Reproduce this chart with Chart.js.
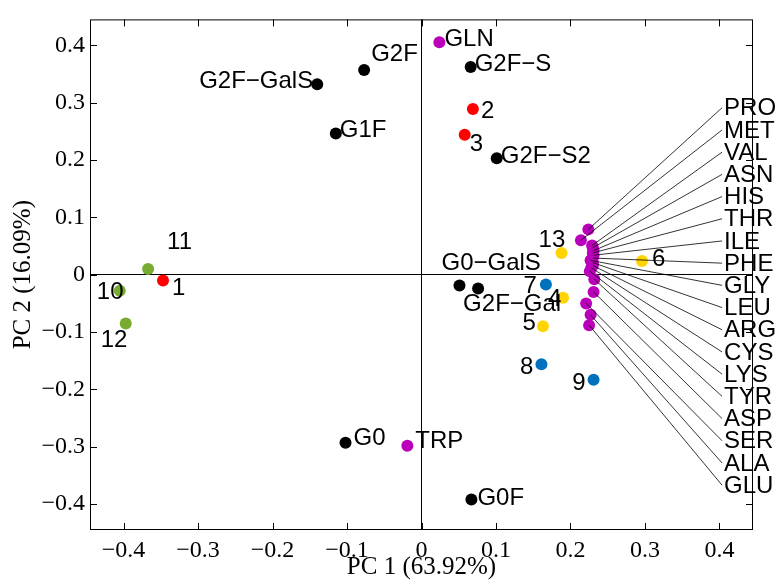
<!DOCTYPE html>
<html><head><meta charset="utf-8">
<script src="https://cdn.jsdelivr.net/npm/chart.js@4/dist/chart.umd.min.js"></script>
<style>html,body{margin:0;padding:0;background:#fff}#wrap{width:779px;height:582px}</style>
</head><body><div id="wrap"><canvas id="c" width="779" height="582"></canvas></div>
<script>
// ---------------- DATA ----------------
const glycanNames = ['G2F','G2F\u2212GalS','G2F\u2212S','G1F','G2F\u2212S2','G0\u2212GalS','G2F\u2212Gal','G0','G0F'];
const glycanPC1   = [-0.077,-0.140,0.066,-0.115,0.101,0.051,0.076,-0.102,0.067];
const glycanPC2   = [0.357,0.332,0.362,0.246,0.203,-0.019,-0.024,-0.293,-0.392];

const redNames = ['1','2','3'];
const redPC1   = [-0.347,0.069,0.058];
const redPC2   = [-0.010,0.289,0.244];

const greenNames = ['10','11','12'];
const greenPC1   = [-0.405,-0.367,-0.397];
const greenPC2   = [-0.028,0.010,-0.085];

const blueNames = ['7','8','9'];
const bluePC1   = [0.167,0.161,0.231];
const bluePC2   = [-0.017,-0.156,-0.183];

const yellowNames = ['4','5','6','13'];
const yellowPC1   = [0.190,0.163,0.296,0.188];
const yellowPC2   = [-0.040,-0.090,0.024,0.038];

const aminoNames = ['GLN','TRP'];
const aminoPC1   = [0.024,-0.019];
const aminoPC2   = [0.405,-0.298];

const clusterNames = ['PRO','MET','VAL','ASN','HIS','THR','ILE','PHE','GLY','LEU','ARG','CYS','LYS','TYR','ASP','SER','ALA','GLU'];
const clusterPC1   = [0.224,0.214,0.229,0.230,0.231,0.230,0.231,0.230,0.227,0.230,0.230,0.228,0.226,0.232,0.231,0.221,0.227,0.225];
const clusterPC2   = [0.079,0.060,0.051,0.047,0.042,0.038,0.034,0.029,0.025,0.021,0.016,0.012,0.006,-0.008,-0.030,-0.050,-0.070,-0.088];

const xTicks = [-0.4,-0.3,-0.2,-0.1,0,0.1,0.2,0.3,0.4];
const xTickLabels = ['\u22120.4','\u22120.3','\u22120.2','\u22120.1','0','0.1','0.2','0.3','0.4'];
const yTicks = [-0.4,-0.3,-0.2,-0.1,0,0.1,0.2,0.3,0.4];
const yTickLabels = ['\u22120.4','\u22120.3','\u22120.2','\u22120.1','0','0.1','0.2','0.3','0.4'];
const xTitle = 'PC 1 (63.92%)';
const yTitle = 'PC 2 (16.09%)';

// ---------------- LAYOUT (label offsets in px: dx, dy, align) ----------------
const glycanOffsets = [[7,-16,'left'],[-4,-3,'right'],[4,-3,'left'],[4,-3,'left'],[4,-2,'left'],[-18,-22,'left'],[-15,16,'left'],[8,-4,'left'],[6,-1,'left']];
const redOffsets = [[9,8,'left'],[8,2,'left'],[5,10,'left']];
const greenOffsets = [[-23,2,'left'],[19,-27,'left'],[-25,17,'left']];
const blueOffsets = [[-9,2,'right'],[-8,3,'right'],[-8,4,'right']];
const yellowOffsets = [[-15,2,'left'],[-7,-3,'right'],[10,-2,'left'],[-23,-13,'left']];
const aminoOffsets = [[5,-3,'left'],[8,-4,'left']];
const leaderX = 0.4035, leaderTop = 0.291, leaderStep = 0.0387;

const pts = (a,b) => a.map((v,i)=>({x:v,y:b[i]}));
const mk = (label, xs, ys, color, names, offs) => ({
  label, data: pts(xs,ys), backgroundColor: color, borderColor: color, borderWidth: 0,
  pointRadius: 6, pointHoverRadius: 6, showLine: false, names, offs
});

const datasets = [
  mk('glycans', glycanPC1, glycanPC2, '#000000', glycanNames, glycanOffsets),
  mk('red', redPC1, redPC2, '#ff0000', redNames, redOffsets),
  mk('green', greenPC1, greenPC2, '#77ac30', greenNames, greenOffsets),
  mk('blue', bluePC1, bluePC2, '#0072bd', blueNames, blueOffsets),
  mk('yellow', yellowPC1, yellowPC2, '#ffd400', yellowNames, yellowOffsets),
  mk('amino', aminoPC1, aminoPC2, '#bb00bb', aminoNames, aminoOffsets),
  mk('cluster', clusterPC1, clusterPC2, '#bb00bb', null, null)
];

const LABEL_FONT = '24px "Liberation Sans", Arial, Helvetica, sans-serif';

const overlay = {
  id: 'overlay',
  afterDatasetsDraw(chart) {
    const ctx = chart.ctx, a = chart.chartArea, xs = chart.scales.x, ys = chart.scales.y;
    ctx.save();
    ctx.strokeStyle = '#000'; ctx.lineWidth = 1;
    ctx.strokeRect(a.left + 0.5, a.top + 0.5, a.right - a.left - 1, a.bottom - a.top - 1);
    const tl = 7;
    ctx.beginPath();
    xTicks.forEach(v => {
      const p = Math.round(xs.getPixelForValue(v)) + 0.5;
      ctx.moveTo(p, a.bottom); ctx.lineTo(p, a.bottom - tl);
      ctx.moveTo(p, a.top); ctx.lineTo(p, a.top + tl);
    });
    yTicks.forEach(v => {
      const p = Math.round(ys.getPixelForValue(v)) + 0.5;
      ctx.moveTo(a.left, p); ctx.lineTo(a.left + tl, p);
      ctx.moveTo(a.right, p); ctx.lineTo(a.right - tl, p);
    });
    ctx.stroke();
    ctx.fillStyle = '#000'; ctx.font = LABEL_FONT; ctx.textBaseline = 'middle';
    chart.data.datasets.forEach(ds => {
      if (!ds.names) return;
      ds.data.forEach((d, i) => {
        const px = xs.getPixelForValue(d.x), py = ys.getPixelForValue(d.y);
        const o = ds.offs[i];
        ctx.textAlign = o[2];
        ctx.fillText(ds.names[i], px + o[0], py + o[1]);
      });
    });
    const lx = xs.getPixelForValue(leaderX);
    ctx.lineWidth = 0.8; ctx.strokeStyle = '#000';
    ctx.textAlign = 'left';
    clusterNames.forEach((n, i) => {
      const px = xs.getPixelForValue(clusterPC1[i]), py = ys.getPixelForValue(clusterPC2[i]);
      const ly = ys.getPixelForValue(leaderTop - i * leaderStep);
      ctx.beginPath(); ctx.moveTo(px, py); ctx.lineTo(lx, ly); ctx.stroke();
      ctx.fillText(n, lx + 2, ly + 1);
    });
    ctx.restore();
  }
};

const serif = '"Liberation Serif", "Times New Roman", Times, serif';

new Chart(document.getElementById('c'), {
  type: 'scatter',
  data: { datasets },
  options: {
    responsive: false, animation: false, devicePixelRatio: 1,
    layout: { padding: { left: 0, right: 26, top: 13, bottom: 0 } },
    plugins: { legend: { display: false }, tooltip: { enabled: false } },
    scales: {
      x: {
        type: 'linear', min: -0.445, max: 0.445,
        afterBuildTicks: s => { s.ticks = xTicks.map(v => ({ value: v })); },
        afterFit: s => { s.height = 52; },
        ticks: { padding: 6, color: '#000', font: { family: serif, size: 24 }, maxRotation: 0,
          callback: (v) => { const i = xTicks.findIndex(t => Math.abs(t - v) < 1e-9); return i >= 0 ? xTickLabels[i] : ''; } },
        grid: { drawTicks: false, lineWidth: 1, color: c => (c.tick && Math.abs(c.tick.value) < 1e-9) ? '#000' : 'rgba(0,0,0,0)' },
        border: { display: false },
        title: { display: true, text: xTitle, color: '#000', font: { family: serif, size: 25 }, padding: { top: 0, bottom: 0 } }
      },
      y: {
        type: 'linear', min: -0.445, max: 0.445,
        afterBuildTicks: s => { s.ticks = yTicks.map(v => ({ value: v })); },
        afterFit: s => { s.width = 90; },
        ticks: { padding: 5, color: '#000', font: { family: serif, size: 24 },
          callback: (v) => { const i = yTicks.findIndex(t => Math.abs(t - v) < 1e-9); return i >= 0 ? yTickLabels[i] : ''; } },
        grid: { drawTicks: false, lineWidth: 1, color: c => (c.tick && Math.abs(c.tick.value) < 1e-9) ? '#000' : 'rgba(0,0,0,0)' },
        border: { display: false },
        title: { display: true, text: yTitle, color: '#000', font: { family: serif, size: 25 }, padding: { top: 8, bottom: 0 } }
      }
    }
  },
  plugins: [overlay]
});
</script></body></html>
